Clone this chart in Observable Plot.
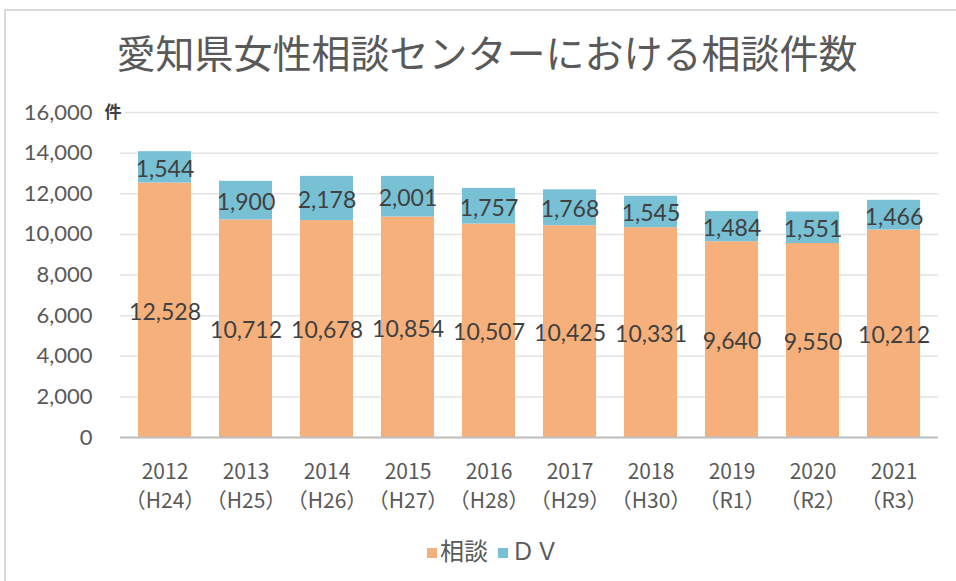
<!DOCTYPE html>
<html>
<head>
<meta charset="utf-8">
<script src="https://cdn.jsdelivr.net/npm/d3@7"></script>
<script src="https://cdn.jsdelivr.net/npm/@observablehq/plot@0.6"></script>
<style>
  html, body { margin: 0; padding: 0; background: #fff; }
  #wrap { position: relative; width: 956px; height: 581px; overflow: hidden; font-family: "Noto Sans CJK JP", sans-serif; }
  #frame { position: absolute; left: 4px; top: 9px; right: -10px; bottom: -10px; border-top: 2px solid #d9d9d9; border-left: 2px solid #d9d9d9; }
  #title { position: absolute; left: 0; width: 974px; top: 26px; text-align: center; font-size: 39px; color: #595959; line-height: 50px; }
  #legend { position: absolute; left: 0; width: 986px; top: 534px; text-align: center; font-size: 24px; color: #595959; line-height: 32px; }
  #legend span.sw { display: inline-block; width: 10px; height: 10px; margin-right: 3px; vertical-align: 2px; }
  #legend span.item { margin: 0 5px; }
  #chart { position: absolute; left: 0; top: 0; }
</style>
</head>
<body>
<div id="wrap">
  <div id="frame"></div>
  <div id="title">愛知県女性相談センターにおける相談件数</div>
  <div id="chart"></div>
  <div id="legend"></div>
</div>
<script>
const years = ["2012", "2013", "2014", "2015", "2016", "2017", "2018", "2019", "2020", "2021"];
const eras = ["（H24）", "（H25）", "（H26）", "（H27）", "（H28）", "（H29）", "（H30）", "（R1）", "（R2）", "（R3）"];
const soudan = [12528, 10712, 10678, 10854, 10507, 10425, 10331, 9640, 9550, 10212];
const dv = [1544, 1900, 2178, 2001, 1757, 1768, 1545, 1484, 1551, 1466];
const seriesNames = ["相談", "ＤＶ"];
const seriesColors = ["#F5B07C", "#78C0D4"];
const yTicks = [0, 2000, 4000, 6000, 8000, 10000, 12000, 14000, 16000];

const data = [];
years.forEach((y, i) => {
  data.push({year: y, type: seriesNames[0], value: soudan[i]});
  data.push({year: y, type: seriesNames[1], value: dv[i]});
});
const eraOf = Object.fromEntries(years.map((y, i) => [y, eras[i]]));
const fmt = d3.format(",");

const chart = Plot.plot({
  width: 956,
  height: 581,
  marginTop: 112,
  marginBottom: 144,
  marginLeft: 120,
  marginRight: 18,
  style: {fontFamily: "Lato, sans-serif", background: "transparent", overflow: "visible"},
  x: {domain: years, paddingInner: 0.34, paddingOuter: 0.17, label: null, axis: null},
  y: {domain: [0, 16000], label: null, axis: null},
  color: {domain: seriesNames, range: seriesColors},
  marks: [
    Plot.gridY(yTicks, {stroke: "#e3e3e3", strokeOpacity: 1, strokeWidth: 1.5}),
    Plot.barY(data, Plot.stackY({x: "year", y: "value", fill: "type", order: seriesNames})),
    Plot.ruleY([0], {stroke: "#bfbfbf", strokeWidth: 2}),
    Plot.axisY(yTicks, {tickSize: 0, tickPadding: 28, tickFormat: fmt, fontSize: 22, fill: "#595959"}),
    Plot.text(["件"], {frameAnchor: "top-left", dx: -16, dy: -7, fontSize: 17, fontWeight: "bold", fill: "#404040", fontFamily: "Noto Sans CJK JP", stroke: "white", strokeWidth: 8, paintOrder: "stroke"}),
    Plot.axisX(years, {tickSize: 0, tickPadding: 21, tickFormat: d => d + "\n" + eraOf[d], fontSize: 21, lineHeight: 1.38, fill: "#595959", fontFamily: "Noto Sans CJK JP"}),
    Plot.text(data, Plot.stackY({x: "year", y: "value", z: "type", order: seriesNames, text: d => fmt(d.value), fontSize: 23, fill: "#404040", dy: 2}))
  ]
});
document.getElementById("chart").appendChild(chart);

const legend = document.getElementById("legend");
legend.innerHTML = seriesNames.map((n, i) =>
  `<span class="item"><span class="sw" style="background:${seriesColors[i]}"></span>${n}</span>`).join("");
</script>
</body>
</html>
